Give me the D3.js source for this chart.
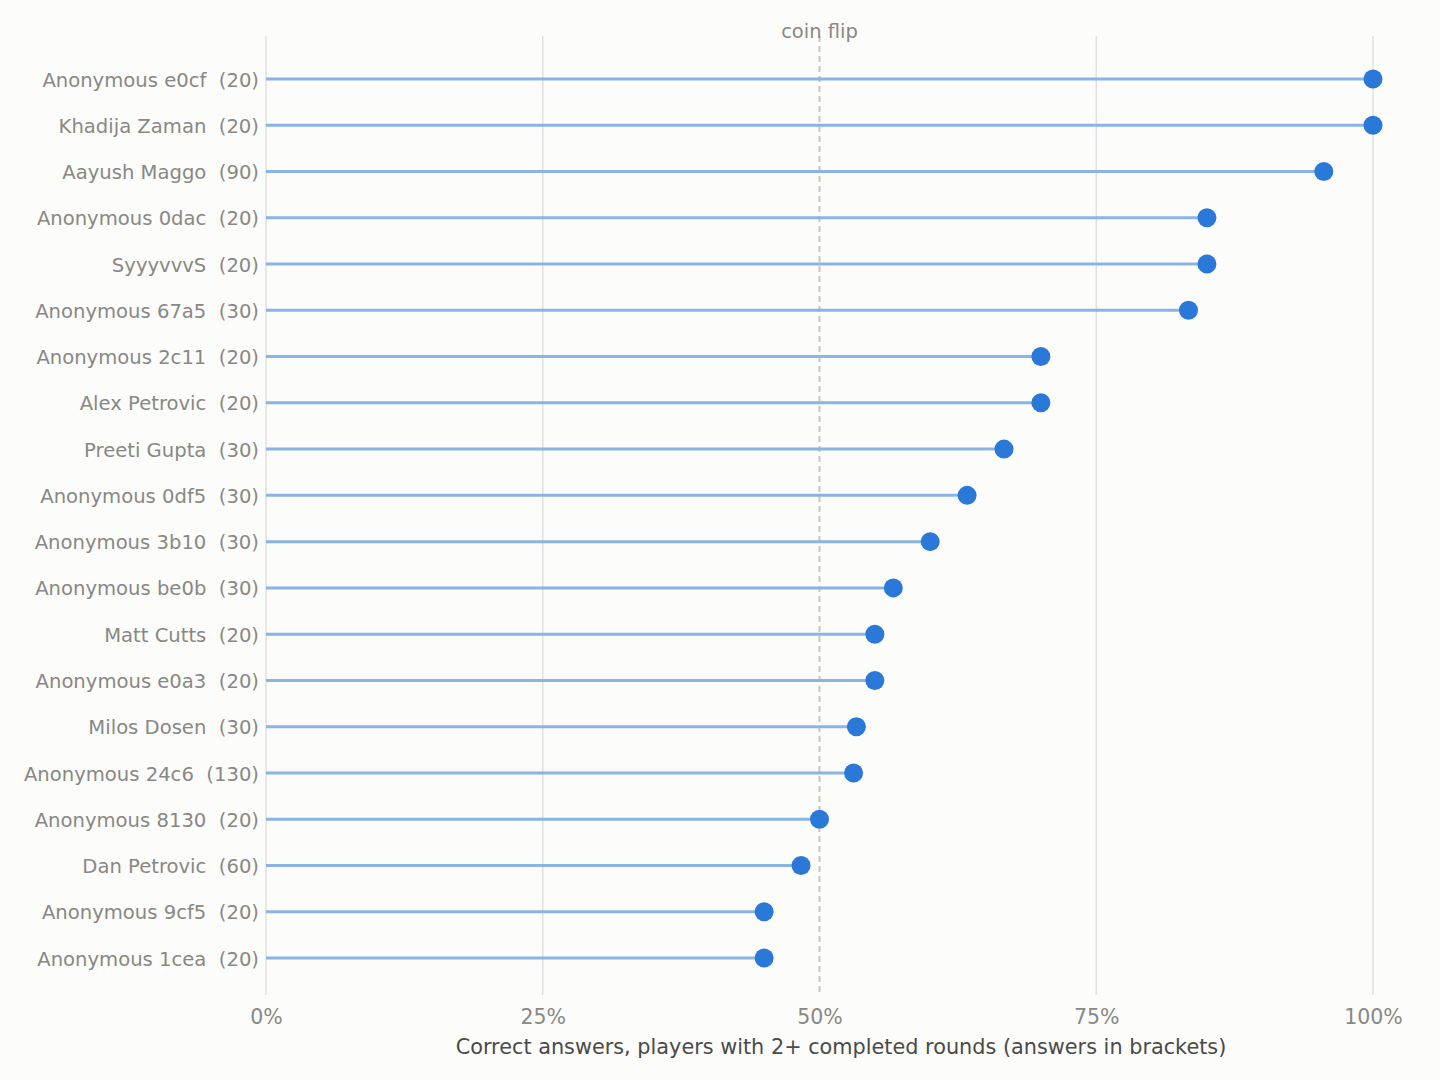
<!DOCTYPE html>
<html>
<head>
<meta charset="utf-8">
<script src="https://cdn.jsdelivr.net/npm/d3@7"></script>
<style>
  body { margin: 0; background: #fcfcfa; }
  svg { display: block; font-family: "DejaVu Sans", sans-serif; }
</style>
</head>
<body>
<svg id="chart" width="1440" height="1080"></svg>
<script>
const players = [
  'Anonymous e0cf', 'Khadija Zaman', 'Aayush Maggo', 'Anonymous 0dac', 'SyyyvvvS',
  'Anonymous 67a5', 'Anonymous 2c11', 'Alex Petrovic', 'Preeti Gupta', 'Anonymous 0df5',
  'Anonymous 3b10', 'Anonymous be0b', 'Matt Cutts', 'Anonymous e0a3', 'Milos Dosen',
  'Anonymous 24c6', 'Anonymous 8130', 'Dan Petrovic', 'Anonymous 9cf5', 'Anonymous 1cea'
];
const answers = [20, 20, 90, 20, 20, 30, 20, 20, 30, 30, 30, 30, 20, 20, 30, 130, 20, 60, 20, 20];
const correct = [20, 20, 86, 17, 17, 25, 14, 14, 20, 19, 18, 17, 11, 11, 16, 69, 10, 29, 9, 9];
const xTicks = [0, 0.25, 0.5, 0.75, 1];
const coinFlip = 0.5;

const rows = players.map((p, i) => ({
  label: `${p}  (${answers[i]})`,
  share: correct[i] / answers[i]
}));

const svg = d3.select('#chart');
const plotTop = 36, plotBottom = 995;

const x = d3.scaleLinear().domain([0, 1]).range([266, 1373]);
const y = d3.scalePoint().domain(rows.map(d => d.label)).range([79, 958]);

// grid
svg.append('g')
  .selectAll('line')
  .data(xTicks.filter(t => t !== coinFlip))
  .join('line')
  .attr('x1', d => x(d)).attr('x2', d => x(d))
  .attr('y1', plotTop).attr('y2', plotBottom)
  .attr('stroke', '#e0e0dc')
  .attr('stroke-width', 1.5);

// coin flip reference
svg.append('line')
  .attr('x1', x(coinFlip)).attr('x2', x(coinFlip))
  .attr('y1', plotTop).attr('y2', plotBottom)
  .attr('stroke', '#c6c6be')
  .attr('stroke-width', 2)
  .attr('stroke-dasharray', '6,4');

svg.append('text')
  .attr('x', x(coinFlip)).attr('y', 38)
  .attr('text-anchor', 'middle')
  .attr('font-size', 19.5)
  .attr('fill', '#888884')
  .text('coin flip');

// x axis
const xAxis = d3.axisBottom(x)
  .tickValues(xTicks)
  .tickFormat(d3.format('.0%'))
  .tickSize(0)
  .tickPadding(14);

const gx = svg.append('g')
  .attr('transform', `translate(0, ${plotBottom})`)
  .call(xAxis);
gx.select('.domain').remove();
gx.selectAll('text')
  .attr('font-family', '"DejaVu Sans", sans-serif')
  .attr('font-size', 20.5)
  .attr('fill', '#888884');

svg.append('text')
  .attr('x', 841).attr('y', 1054)
  .attr('text-anchor', 'middle')
  .attr('font-size', 20.8)
  .attr('fill', '#4a4a48')
  .text('Correct answers, players with 2+ completed rounds (answers in brackets)');

// y axis labels
const yAxis = d3.axisLeft(y).tickSize(0).tickPadding(7);
const gy = svg.append('g')
  .attr('transform', `translate(${x(0)}, 0)`)
  .call(yAxis);
gy.select('.domain').remove();
gy.selectAll('text')
  .attr('font-family', '"DejaVu Sans", sans-serif')
  .attr('font-size', 19.6)
  .attr('fill', '#888884')
  .attr('dy', '0.36em')
  .style('white-space', 'pre');

// stems
svg.append('g')
  .selectAll('line')
  .data(rows)
  .join('line')
  .attr('x1', x(0))
  .attr('x2', d => x(d.share))
  .attr('y1', d => y(d.label))
  .attr('y2', d => y(d.label))
  .attr('stroke', '#8ab4e6')
  .attr('stroke-width', 3);

// dots
svg.append('g')
  .selectAll('circle')
  .data(rows)
  .join('circle')
  .attr('cx', d => x(d.share))
  .attr('cy', d => y(d.label))
  .attr('r', 9.5)
  .attr('fill', '#2a79d8');
</script>
</body>
</html>
